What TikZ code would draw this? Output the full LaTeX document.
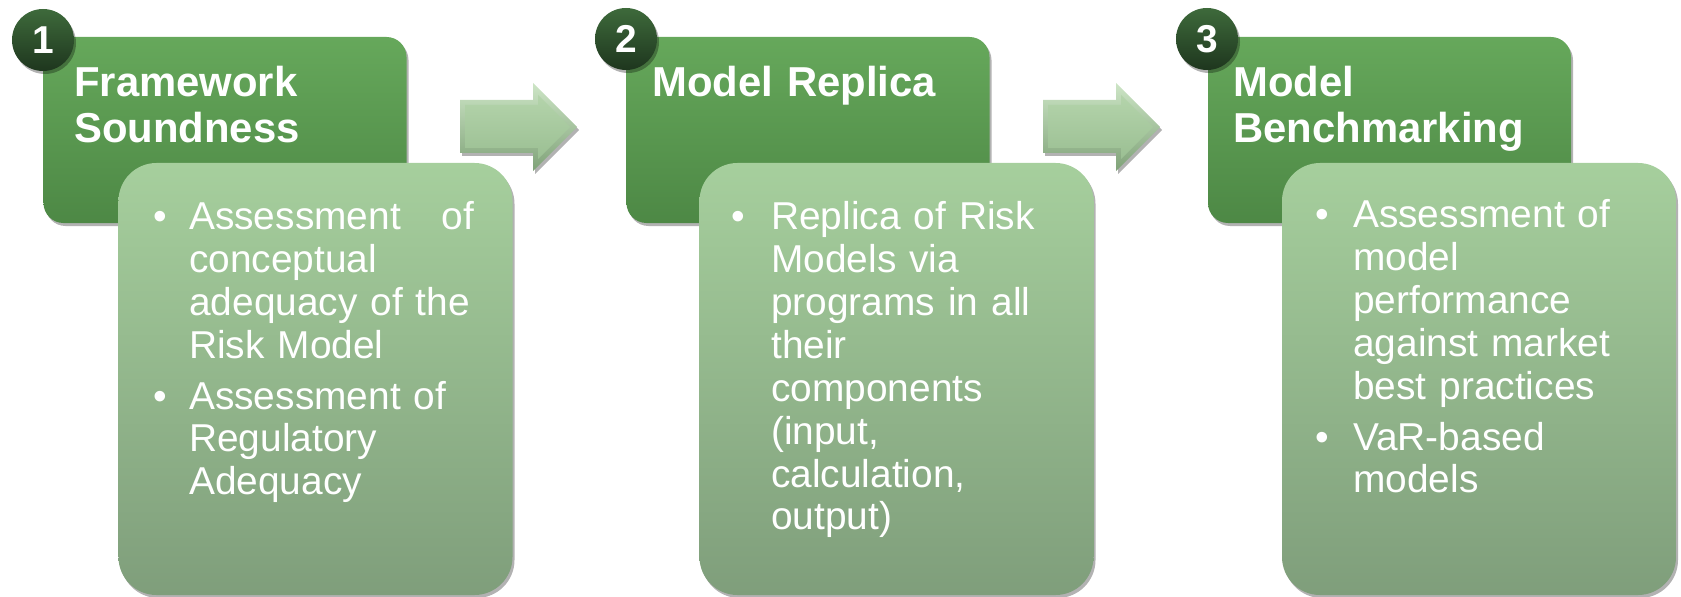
\documentclass[tikz,border=0pt]{standalone}
\usepackage{fontspec}
\setmainfont{Liberation Sans}
\usetikzlibrary{shadows}
\definecolor{darkT}{HTML}{66A85B}
\definecolor{darkB}{HTML}{4D8845}
\definecolor{lightT}{HTML}{A6CF9D}
\definecolor{lightB}{HTML}{7F9E7B}
\definecolor{circT}{HTML}{3E6A3B}
\definecolor{circB}{HTML}{1E361E}
\definecolor{arrOT}{HTML}{CDE5C6}
\definecolor{arrOB}{HTML}{7FA278}
\definecolor{arrIT}{HTML}{B4D4AB}
\definecolor{arrIB}{HTML}{9BBF93}
\tikzset{
  boxshadow/.style={drop shadow={shadow xshift=2bp, shadow yshift=-3bp, opacity=0.3, fill=black}},
  headbox/.style={rounded corners=20bp, top color=darkT, bottom color=darkB, draw=none, inner sep=0pt,
     minimum width=363bp, minimum height=186bp, boxshadow},
  bodybox/.style={rounded corners=38bp, top color=lightT, bottom color=lightB, draw=none, inner sep=0pt,
     minimum width=394bp, minimum height=432bp, boxshadow},
  numdisc/.style={circle, minimum size=62bp, inner sep=0pt, top color=circT, bottom color=circB,
     text=white, font=\fontsize{39}{39}\selectfont\bfseries, boxshadow},
  titletext/.style={anchor=base west, inner sep=0pt, text=white, align=left, text width=340bp,
     font=\fontsize{42}{46}\selectfont\bfseries},
  bodytext/.style={anchor=base west, inner sep=0pt, text=white, align=left, text width=300bp,
     font=\fontsize{39}{43}\selectfont},
  bulletmark/.style={anchor=base west, inner sep=0pt, text=white, font=\fontsize{39}{43}\selectfont},
  blockarrow/.pic={
    \path[top color=arrOT, bottom color=arrOB, boxshadow]
      (0,100) -- (73,100) -- (73,83) -- (117,127) -- (73,171) -- (73,153) -- (0,153) -- cycle;
    \path[top color=arrIT, bottom color=arrIB]
      (5,105) -- (78,105) -- (78,95) -- (110,127) -- (78,159) -- (78,148) -- (5,148) -- cycle;
  }
}
\begin{document}
\begin{tikzpicture}[x=1bp, y=-1bp]
\useasboundingbox (0,0) rectangle (1681,597);
% block arrows
\pic at (460,0) {blockarrow};
\pic at (1043,0) {blockarrow};
% step 1
\node[headbox] (h1) at (225,130) {};
\node[bodybox] (b1) at (315.5,379) {};
\node[numdisc] (c1) at (43,40) {1};
\node[titletext] (t1) at (74,97) {Framework\\Soundness};
\node[bulletmark] (p1a) at (153,230) {•};
\node[bodytext, text width=285bp] (s1a) at (189,230) {Assessment\hfill of\\conceptual\\adequacy of the\\Risk Model};
\node[bulletmark] (p1b) at (153,409) {•};
\node[bodytext] (s1b) at (189,409) {Assessment of\\Regulatory\\Adequacy};
% step 2
\node[headbox] (h2) at (808,130) {};
\node[bodybox] (b2) at (896.5,379) {};
\node[numdisc] (c2) at (626,39) {2};
\node[titletext] (t2) at (652,97) {Model Replica};
\node[bulletmark] (p2a) at (731,230) {•};
\node[bodytext] (s2a) at (771,230) {Replica of Risk\\Models via\\programs in all\\their\\components\\(input,\\calculation,\\output)};
% step 3
\node[headbox] (h3) at (1389.5,130) {};
\node[bodybox] (b3) at (1479,379) {};
\node[numdisc] (c3) at (1207,39) {3};
\node[titletext] (t3) at (1233,97) {Model\\Benchmarking};
\node[bulletmark] (p3a) at (1315,228) {•};
\node[bodytext] (s3a) at (1353,228) {Assessment of\\model\\performance\\against market\\best practices};
\node[bulletmark] (p3b) at (1315,450) {•};
\node[bodytext] (s3b) at (1353,450) {VaR-based\\models};
\end{tikzpicture}
\end{document}
